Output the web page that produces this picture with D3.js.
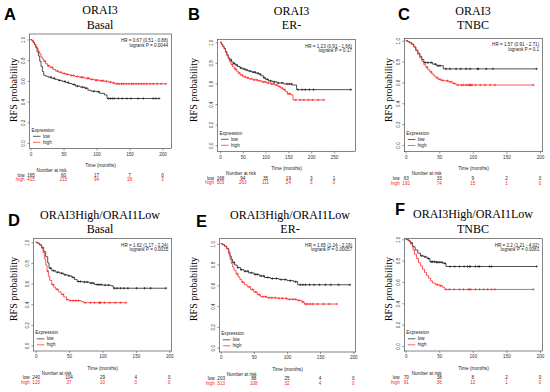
<!DOCTYPE html>
<html>
<head>
<meta charset="utf-8">
<script src="https://cdn.jsdelivr.net/npm/d3@7"></script>
<style>
  body { margin: 0; background: #fff; }
  svg { display: block; }
  .sm { font-family: "Liberation Sans", Arial, sans-serif; }
  .serif { font-family: "Liberation Serif", "Times New Roman", serif; }
</style>
</head>
<body>
<svg id="chart" width="550" height="392"></svg>
<script>
// ---------------- data ----------------
var riskGroups = ["low", "high"];

// A: ORAI3 / Basal
var aLow = [[0,1],[2,0.99],[4,0.97],[6,0.95],[8,0.92],[10,0.88],[12,0.84],[14,0.79],[16,0.74],[18,0.69],[20,0.655],[23,0.645],[27,0.635],[32,0.625],[37,0.615],[42,0.605],[48,0.595],[53,0.585],[58,0.575],[63,0.565],[68,0.55],[75,0.54],[82,0.53],[87,0.51],[92,0.5],[100,0.495],[105,0.48],[112,0.465],[116,0.43],[195,0.43]];
var aHigh = [[0,1],[2,0.99],[4,0.975],[6,0.955],[8,0.935],[10,0.91],[12,0.885],[14,0.86],[16,0.83],[18,0.81],[20,0.79],[23,0.765],[26,0.745],[30,0.73],[34,0.71],[38,0.695],[43,0.683],[48,0.672],[54,0.662],[60,0.652],[67,0.643],[74,0.635],[82,0.625],[90,0.615],[97,0.607],[105,0.601],[112,0.596],[118,0.588],[124,0.58],[128,0.572],[205,0.572]];
var aLowCens = [31,36,44,52,57,66,71,79,84,96,103,118,121,124,127,133,139,146,152,163,171,186,190,195];
var aHighCens = [22,27,33,41,46,51,56,62,65,71,77,79,86,88,93,99,101,107,110,115,121,126,131,134,138,141,145,149,153,156,160,164,168,172,176,181,186,192,198,205];
var aRiskLow = [165, 60, 17, 7, 0];
var aRiskHigh = [415, 215, 94, 18, 3];
var aTicks = [0, 50, 100, 150, 200];

// B: ORAI3 / ER-
var bLow = [[0,1],[3,0.98],[6,0.96],[9,0.94],[12,0.91],[15,0.88],[18,0.85],[21,0.83],[25,0.81],[29,0.795],[33,0.78],[38,0.765],[44,0.75],[50,0.74],[56,0.73],[62,0.72],[70,0.71],[78,0.70],[85,0.69],[90,0.675],[95,0.655],[100,0.64],[106,0.625],[115,0.615],[125,0.605],[140,0.595],[158,0.585],[168,0.54],[287,0.54]];
var bHigh = [[0,1],[3,0.98],[6,0.96],[9,0.935],[12,0.9],[15,0.87],[18,0.84],[21,0.81],[24,0.785],[28,0.76],[32,0.74],[36,0.72],[40,0.70],[45,0.68],[50,0.665],[56,0.655],[63,0.645],[72,0.635],[82,0.625],[92,0.615],[102,0.605],[112,0.595],[120,0.585],[127,0.57],[133,0.555],[138,0.54],[143,0.52],[148,0.50],[155,0.49],[160,0.44],[228,0.44]];
var bLowCens = [24,31,37,46,53,59,66,73,77,83,88,97,104,111,119,128,136,147,152,157,171,180,187,196,205,287];
var bHighCens = [27,34,42,49,55,61,68,75,81,87,94,99,106,113,118,124,131,137,142,149,153,166,176,184,194,203,215,228];
var bRiskLow = [168, 94, 35, 19, 3, 1];
var bRiskHigh = [503, 263, 111, 24, 3, 0];
var bTicks = [0, 50, 100, 150, 200, 250];

// C: ORAI3 / TNBC
var cLow = [[0,1],[3,0.99],[6,0.98],[9,0.965],[12,0.94],[15,0.91],[18,0.88],[21,0.85],[24,0.82],[27,0.79],[36,0.79],[40,0.775],[46,0.76],[52,0.76],[56,0.73],[195,0.73]];
var cHigh = [[0,1],[3,0.99],[6,0.98],[9,0.965],[12,0.94],[15,0.905],[18,0.87],[21,0.835],[24,0.8],[27,0.77],[30,0.745],[33,0.72],[36,0.7],[39,0.68],[42,0.66],[45,0.645],[48,0.63],[52,0.62],[58,0.615],[64,0.605],[70,0.59],[75,0.575],[190,0.575]];
var cLowCens = [29,33,38,44,48,51,60,66,75,82,90,96,107,108,120,130,195];
var cHighCens = [32,38,47,51,55,62,67,72,78,83,86,90,93,95,96,97,99,104,111,118,126,133,190];
var cRiskLow = [63, 33, 9, 2, 0];
var cRiskHigh = [192, 74, 15, 1, 0];
var cTicks = [0, 50, 100, 150, 200];

// D: ORAI3High/ORAI1Low / Basal
var dLow = [[0,1],[3,0.99],[6,0.975],[9,0.95],[12,0.91],[15,0.86],[18,0.8],[20,0.75],[24,0.725],[30,0.71],[36,0.70],[42,0.685],[48,0.675],[54,0.66],[58,0.64],[62,0.62],[70,0.615],[80,0.605],[88,0.59],[100,0.585],[112,0.58],[116,0.555],[195,0.555]];
var dHigh = [[0,1],[3,0.99],[6,0.97],[9,0.94],[11,0.9],[13,0.84],[15,0.78],[17,0.72],[19,0.67],[21,0.63],[24,0.59],[27,0.565],[30,0.545],[34,0.52],[38,0.495],[42,0.47],[46,0.445],[50,0.435],[68,0.425],[72,0.415],[135,0.415]];
var dLowCens = [22,27,33,39,44,50,56,64,67,73,77,83,86,92,95,98,104,109,118,122,127,132,138,151,163,172,195];
var dHighCens = [18,26,32,41,47,52,56,60,64,74,82,88,95,96,97,103,111,119,127,135];
var dRiskLow = [240, 104, 29, 4, 0];
var dRiskHigh = [120, 37, 10, 0, 0];
var dTicks = [0, 50, 100, 150, 200];

// E: ORAI3High/ORAI1Low / ER-
var eLow = [[0,1],[3,0.99],[6,0.975],[9,0.955],[12,0.92],[14,0.88],[16,0.85],[18,0.82],[21,0.795],[25,0.77],[30,0.75],[35,0.735],[42,0.72],[50,0.705],[58,0.69],[66,0.675],[75,0.665],[88,0.655],[100,0.645],[110,0.635],[116,0.605],[195,0.605]];
var eHigh = [[0,1],[3,0.99],[6,0.975],[9,0.95],[12,0.9],[14,0.85],[16,0.81],[18,0.775],[20,0.745],[23,0.71],[26,0.68],[29,0.655],[32,0.63],[36,0.605],[40,0.585],[45,0.56],[50,0.535],[55,0.51],[60,0.49],[70,0.48],[85,0.475],[100,0.465],[115,0.455],[122,0.44],[126,0.42],[175,0.42]];
var eLowCens = [20,26,31,37,41,46,52,55,61,65,71,78,84,91,97,105,113,120,124,128,134,141,149,158,166,178,195];
var eHighCens = [25,33,43,48,53,58,64,68,73,77,82,88,93,99,104,109,113,118,124,128,131,135,139,146,155,164,175];
var eRiskLow = [203, 88, 25, 4, 0];
var eRiskHigh = [313, 108, 32, 4, 0];
var eTicks = [0, 50, 100, 150, 200];

// F: ORAI3High/ORAI1Low / TNBC
var fLow = [[0,1],[4,0.985],[7,0.97],[10,0.93],[14,0.9],[18,0.87],[22,0.845],[27,0.835],[32,0.82],[36,0.79],[45,0.785],[55,0.775],[60,0.745],[195,0.745]];
var fHigh = [[0,1],[3,0.99],[6,0.975],[8,0.96],[10,0.94],[11,0.9],[13,0.86],[16,0.82],[19,0.78],[22,0.75],[25,0.72],[28,0.69],[31,0.66],[34,0.635],[37,0.61],[40,0.59],[44,0.575],[50,0.565],[55,0.55],[58,0.53],[190,0.53]];
var fLowCens = [24,29,34,38,40,43,46,48,51,54,58,66,73,80,87,92,95,96,104,108,110,125,128,195];
var fHighCens = [8,47,52,60,65,72,80,86,93,95,97,104,110,116,122,128,133,190];
var fRiskLow = [70, 38, 8, 2, 0];
var fRiskHigh = [91, 36, 12, 1, 0];
var fTicks = [0, 50, 100, 150, 200];

var hrLines = [
  ["HR = 0.67 (0.51 - 0.88)", "logrank P = 0.0044"],
  ["HR = 1.23 (0.91 - 1.66)", "logrank P = 0.17"],
  ["HR = 1.57 (0.91 - 2.71)", "logrank P = 0.1"],
  ["HR = 1.62 (1.17 - 2.24)", "logrank P = 0.0035"],
  ["HR = 1.65 (1.24 - 2.19)", "logrank P = 0.00057"],
  ["HR = 2.2 (1.21 - 4.02)", "logrank P = 0.0081"]
];
var yTicks = [0, 0.2, 0.4, 0.6, 0.8, 1.0];

// ---------------- layout ----------------
// box = [left, top, right, bottom]; xr = pixel of first/last tick; yr = pixel of 0 / 1
var panels = [
  {tag:"A", letter:[4,20], title:["ORAI3","Basal"], tpos:[100,14,29], ylab:[13,90],
   box:[29.5,34,171.5,148.5], xr:[30.5,162.5], yr:[143,39.5], ticks:aTicks,
   low:aLow, high:aHigh, lowC:aLowCens, highC:aHighCens, rl:aRiskLow, rh:aRiskHigh, hr:hrLines[0]},
  {tag:"B", letter:[188,19.5], title:["ORAI3","ER-"], tpos:[291.5,14.5,28.5], ylab:[193,90],
   box:[217.5,39.5,355.5,151.5], xr:[220,334], yr:[145.2,42.3], ticks:bTicks,
   low:bLow, high:bHigh, lowC:bLowCens, highC:bHighCens, rl:bRiskLow, rh:bRiskHigh, hr:hrLines[1]},
  {tag:"C", letter:[398,19.5], title:["ORAI3","TNBC"], tpos:[473,14.5,28.5], ylab:[388,90],
   box:[404.3,38.3,542.7,151.7], xr:[405.7,540], yr:[145,40.7], ticks:cTicks,
   low:cLow, high:cHigh, lowC:cLowCens, highC:cHighCens, rl:cRiskLow, rh:cRiskHigh, hr:hrLines[2]},
  {tag:"D", letter:[8,226], title:["ORAI3High/ORAI1Low","Basal"], tpos:[100,219,233], ylab:[13,289],
   box:[33.3,238.7,171.7,351], xr:[35.7,169.3], yr:[345.5,242.3], ticks:dTicks,
   low:dLow, high:dHigh, lowC:dLowCens, highC:dHighCens, rl:dRiskLow, rh:dRiskHigh, hr:hrLines[3]},
  {tag:"E", letter:[196,227], title:["ORAI3High/ORAI1Low","ER-"], tpos:[290,218.5,233], ylab:[193,289],
   box:[219.3,238.7,355.7,352], xr:[220.7,353.3], yr:[347.7,243.7], ticks:eTicks,
   low:eLow, high:eHigh, lowC:eLowCens, highC:eHighCens, rl:eRiskLow, rh:eRiskHigh, hr:hrLines[4]},
  {tag:"F", letter:[395,215], title:["ORAI3High/ORAI1Low","TNBC"], tpos:[473,218,233], ylab:[388,289],
   box:[404.3,238.7,542.7,351], xr:[405.7,540], yr:[346,239.3], ticks:fTicks,
   low:fLow, high:fHigh, lowC:fLowCens, highC:fHighCens, rl:fRiskLow, rh:fRiskHigh, hr:hrLines[5]}
];

var colors = {low: "#1a1a1a", high: "#ff2020"};
var svg = d3.select("#chart");
svg.append("rect").attr("width", 550).attr("height", 392).attr("fill", "#fff");

function survAt(curve, t) {
  var s = curve[0][1];
  for (var i = 0; i < curve.length; i++) { if (curve[i][0] <= t) s = curve[i][1]; }
  return s;
}

panels.forEach(function(p) {
  var g = svg.append("g");
  var L = p.box[0], T = p.box[1], R = p.box[2], B = p.box[3];
  var x = d3.scaleLinear().domain([p.ticks[0], p.ticks[p.ticks.length - 1]]).range(p.xr);
  var y = d3.scaleLinear().domain([0, 1]).range(p.yr);

  // panel letter + title
  g.append("text").attr("x", p.letter[0]).attr("y", p.letter[1])
    .attr("class", "sm").style("font-size", "16.5px").style("font-weight", "bold").text(p.tag);
  g.append("text").attr("class", "serif").attr("x", p.tpos[0]).attr("y", p.tpos[1])
    .attr("text-anchor", "middle").style("font-size", "12px").text(p.title[0]);
  g.append("text").attr("class", "serif").attr("x", p.tpos[0]).attr("y", p.tpos[2])
    .attr("text-anchor", "middle").style("font-size", "12px").text(p.title[1]);
  g.append("text").attr("class", "serif")
    .attr("transform", "translate(" + p.ylab[0] + "," + p.ylab[1] + ") rotate(-90)")
    .attr("text-anchor", "middle").attr("dy", "0.35em").style("font-size", "10px")
    .text("RFS probability");

  // box
  g.append("rect").attr("x", L).attr("y", T).attr("width", R - L).attr("height", B - T)
    .attr("fill", "none").attr("stroke", "#333").attr("stroke-width", 0.6);

  // axes
  var xa = g.append("g").attr("transform", "translate(0," + B + ")")
    .call(d3.axisBottom(x).tickValues(p.ticks).tickSize(2).tickPadding(2).tickFormat(d3.format("d")));
  xa.select(".domain").remove();
  xa.selectAll("line").attr("stroke", "#333").attr("stroke-width", 0.5);
  xa.selectAll("text").attr("class", "sm").style("font-size", "4.6px").attr("fill", "#333");

  var ya = g.append("g").attr("transform", "translate(" + L + ",0)")
    .call(d3.axisLeft(y).tickValues(yTicks).tickSize(2).tickFormat(d3.format(".1f")));
  ya.select(".domain").remove();
  ya.selectAll("line").attr("stroke", "#333").attr("stroke-width", 0.5);
  ya.selectAll("text").attr("class", "sm").style("font-size", "4.6px").attr("fill", "#333")
    .attr("x", 0).attr("y", -4.2).attr("dy", 0).attr("text-anchor", "middle")
    .attr("transform", "rotate(-90)");

  // curves
  var line = d3.line().x(function(d) { return x(d[0]); }).y(function(d) { return y(d[1]); })
    .curve(d3.curveStepAfter);
  [["low", p.low, p.lowC], ["high", p.high, p.highC]].forEach(function(s) {
    g.append("path").datum(s[1]).attr("d", line).attr("fill", "none")
      .attr("stroke", colors[s[0]]).attr("stroke-width", 0.75);
    g.selectAll(null).data(s[2]).enter().append("path")
      .attr("d", function(t) {
        var cx = x(t), cy = y(survAt(s[1], t));
        return "M" + (cx - 1.2) + "," + cy + "h2.4M" + cx + "," + (cy - 1.2) + "v2.4";
      })
      .attr("stroke", colors[s[0]]).attr("stroke-width", 0.6);
  });

  // HR / logrank
  g.append("text").attr("class", "sm").attr("x", R - 3.5).attr("y", T + 8)
    .attr("text-anchor", "end").style("font-size", "4.6px").attr("fill", "#222").text(p.hr[0]);
  g.append("text").attr("class", "sm").attr("x", R - 3.5).attr("y", T + 12.5)
    .attr("text-anchor", "end").style("font-size", "4.6px").attr("fill", "#222").text(p.hr[1]);

  // legend
  g.append("text").attr("class", "sm").attr("x", L + 2).attr("y", B - 17)
    .style("font-size", "4.6px").attr("fill", "#222").text("Expression");
  riskGroups.forEach(function(k, i) {
    var ly = B - 12.2 + i * 6;
    g.append("line").attr("x1", L + 3.5).attr("x2", L + 11).attr("y1", ly).attr("y2", ly)
      .attr("stroke", colors[k]).attr("stroke-width", 0.7);
    g.append("text").attr("class", "sm").attr("x", L + 13.5).attr("y", ly + 1.6)
      .style("font-size", "4.6px").attr("fill", "#222").text(k);
  });

  // x title
  g.append("text").attr("class", "sm").attr("x", (L + R) / 2).attr("y", B + 18.5)
    .attr("text-anchor", "middle").style("font-size", "4.8px").attr("fill", "#222").text("Time (months)");

  // number at risk
  g.append("text").attr("class", "sm").attr("x", x(p.ticks[0]) + 21).attr("y", B + 23.5)
    .attr("text-anchor", "middle").style("font-size", "4.6px").attr("fill", "#222").text("Number at risk");
  [["low", p.rl], ["high", p.rh]].forEach(function(r, i) {
    var ry = B + 28.3 + i * 4.6;
    g.append("text").attr("class", "sm").attr("x", x(p.ticks[0]) - 6).attr("y", ry)
      .attr("text-anchor", "end").style("font-size", "4.6px").attr("fill", colors[r[0]]).text(r[0]);
    g.selectAll(null).data(r[1]).enter().append("text").attr("class", "sm")
      .attr("x", function(d, j) { return x(p.ticks[j]) + (j === 0 ? 0.5 : 0); })
      .attr("y", ry).attr("text-anchor", "middle").style("font-size", "4.6px")
      .attr("fill", colors[r[0]]).text(function(d) { return d; });
  });
});
</script>
</body>
</html>
